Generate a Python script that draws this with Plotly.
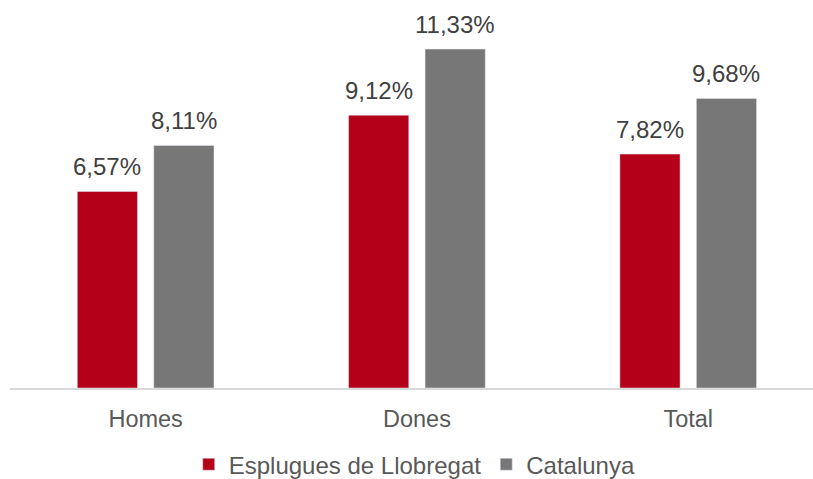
import plotly.graph_objects as go

categories = ["Homes", "Dones", "Total"]
esplugues = [6.57, 9.12, 7.82]
catalunya = [8.11, 11.33, 9.68]
series_names = ["Esplugues de Llobregat", "Catalunya"]

RED = "#B5001A"
GREY = "#777777"
FONT = "Liberation Sans, Arial, sans-serif"
BAR_W = 0.222
OFFSETS = [-0.252, 0.03]

fig = go.Figure()
for name, vals, color, off in zip(series_names, [esplugues, catalunya], [RED, GREY], OFFSETS):
    fig.add_trace(go.Bar(
        x=categories, y=vals, name=name,
        marker=dict(color=color), width=BAR_W, offset=off,
    ))
    # value labels above each bar
    for i, v in enumerate(vals):
        fig.add_annotation(
            x=i + off + BAR_W / 2, y=v, xref="x", yref="y",
            text=f"{v:.2f}".replace(".", ",") + "%",
            showarrow=False, yanchor="bottom", yshift=9,
            font=dict(color="#404040", size=24, family=FONT),
        )

fig.update_layout(
    width=813, height=479,
    margin=dict(l=10, r=0, t=29, b=91, autoexpand=False),
    paper_bgcolor="white", plot_bgcolor="white",
    barmode="overlay",
    font=dict(family=FONT, color="#595959", size=24),
    xaxis=dict(
        type="category", range=[-0.5, 2.46],
        showline=True, linecolor="#D9D9D9", linewidth=2,
        ticks="outside", ticklen=9, tickcolor="rgba(0,0,0,0)",
        tickfont=dict(size=23.5, color="#595959", family=FONT),
        showgrid=False,
    ),
    yaxis=dict(range=[0, 12], visible=False, showgrid=False),
    legend=dict(
        orientation="h", x=0.504, xanchor="center",
        yref="container", y=0.03, yanchor="middle",
        font=dict(size=24, color="#595959", family=FONT),
        itemwidth=30, traceorder="normal",
    ),
    showlegend=True,
)

fig.write_html("out.html")
